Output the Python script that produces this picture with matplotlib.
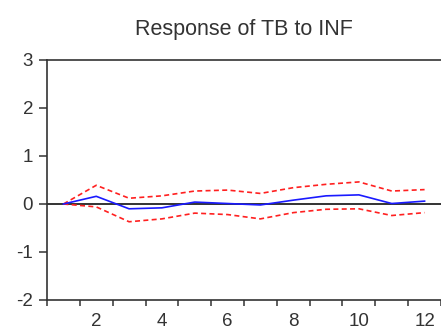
import numpy as np
import matplotlib.pyplot as plt

# impulse response of TB to a shock in INF, with +/- 2 s.e. bands
periods = np.arange(1, 13)
response = [0.0, 0.16, -0.10, -0.08, 0.04, 0.01, -0.02, 0.08, 0.17, 0.19, 0.01, 0.06]
upper_band = [0.0, 0.39, 0.12, 0.17, 0.27, 0.29, 0.22, 0.34, 0.41, 0.46, 0.27, 0.30]
lower_band = [0.0, -0.06, -0.37, -0.31, -0.19, -0.22, -0.31, -0.18, -0.11, -0.10, -0.24, -0.18]

y_ticks = [-2, -1, 0, 1, 2, 3]
x_labels = [2, 4, 6, 8, 10, 12]

plt.rcParams['font.family'] = ['Liberation Sans', 'DejaVu Sans']

fig = plt.figure(figsize=(4.41, 3.27), dpi=100)
W, H = 441, 327
ax = fig.add_axes([47 / W, 27 / H, 394 / W, 240 / H])

ax.axhline(0, color='#333333', lw=1.4, zorder=1)
ax.plot(periods, response, color='#1a1aff', lw=1.2, zorder=3)
ax.plot(periods, upper_band, color='#ff2020', lw=1.2, ls=(0, (3, 2)), zorder=2)
ax.plot(periods, lower_band, color='#ff2020', lw=1.2, ls=(0, (3, 2)), zorder=2)

ax.set_xlim(0.5, 0.5 + 394 / 33.5)
ax.set_ylim(-2, 3)

ax.set_yticks(y_ticks)
ax.set_yticklabels([str(v) for v in y_ticks])
ax.tick_params(axis='y', direction='out', length=6, width=1.1, pad=4,
               labelsize=13.5, colors='#333333')

# labels in the middle of each period, tick marks on the period boundaries
ax.set_xticks(x_labels)
ax.set_xticklabels([str(v) for v in x_labels])
ax.set_xticks(np.arange(0.5, 13, 1.0), minor=True)
ax.tick_params(axis='x', which='major', length=0, pad=9, labelsize=13.5,
               colors='#333333')
ax.tick_params(axis='x', which='minor', direction='out', length=4.5, width=1.1,
               color='#333333')

for side in ['left', 'top', 'bottom']:
    ax.spines[side].set_linewidth(1.2)
    ax.spines[side].set_color('#333333')
ax.spines['right'].set_visible(False)

fig.text(244 / W, 1 - 35 / H, 'Response of TB to INF', ha='center', va='baseline',
         fontsize=15.5, color='#333333')

fig.savefig('out.png', dpi=100)
